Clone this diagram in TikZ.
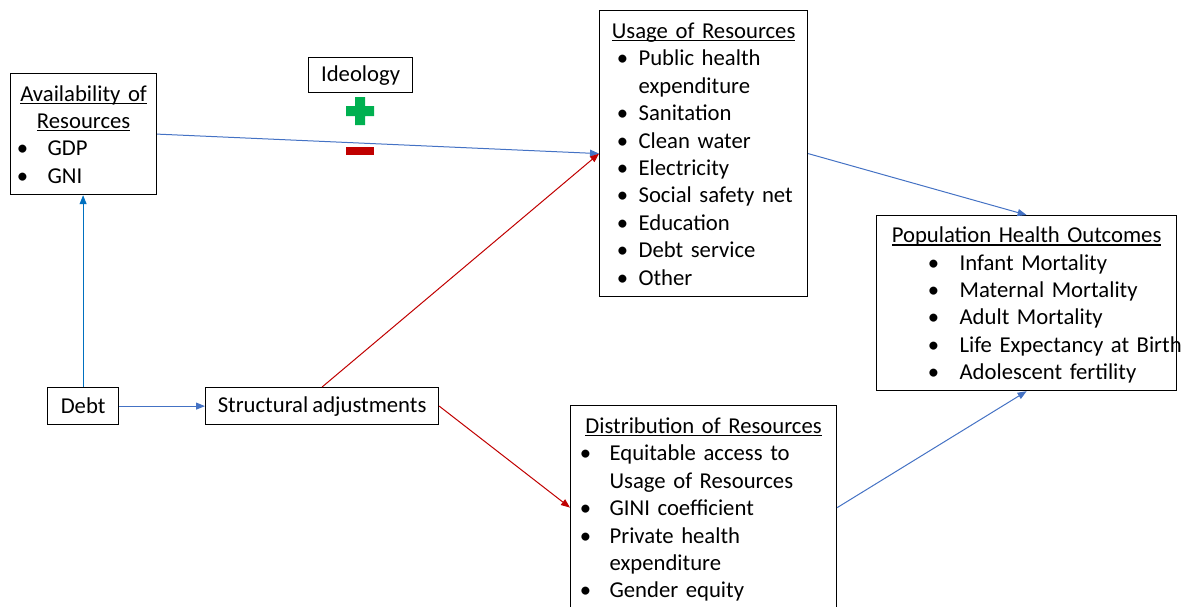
\documentclass[tikz,border=0pt]{standalone}
\usepackage{fontspec}
\setmainfont[WordSpace=0.8]{Carlito}
\usetikzlibrary{arrows.meta}
\definecolor{linkblue}{RGB}{68,114,196}
\definecolor{debtblue}{RGB}{0,112,192}
\definecolor{cutred}{RGB}{192,0,0}
\definecolor{plusgreen}{RGB}{0,176,80}
% bullet lines inside the resource boxes
\newsavebox{\ulbox}
\newcommand{\lstrut}{\rule[-5.6pt]{0pt}{27.4pt}}
\newcommand{\ul}[1]{\sbox{\ulbox}{#1}\rlap{\rule[-2.8pt]{\wd\ulbox}{1.3pt}}\usebox{\ulbox}}
\newcommand{\itm}[1]{\leavevmode\rlap{\hspace*{\bulx}\makebox[0pt]{\textbullet}}\hspace*{\txtx}\mbox{#1}\lstrut}
\newcommand{\cnt}[1]{\leavevmode\hspace*{\txtx}\mbox{#1}\lstrut}
\newcommand{\hdr}[1]{\makebox[\linewidth]{\ul{#1}}\lstrut}

\tikzset{
  resbox/.style n args={4}{draw, line width=1.2pt, anchor=north west, inner sep=0pt,
    text width=#1, minimum height=#2, align=left,
    execute at begin node={\def\bulx{#3}\def\txtx{#4}}},
  onebox/.style 2 args={draw, line width=1.2pt, anchor=north west, inner sep=0pt,
    minimum width=#1, minimum height=#2},
}

\begin{document}
\begin{tikzpicture}[x=1pt,y=-1pt,>={Triangle[length=9pt,width=7pt]},line width=1pt,
    font=\fontsize{22.7}{27.4}\selectfont]
      \useasboundingbox (0,0) rectangle (1186,606);
      %%
      \node (avail) at (10,73) [resbox={146pt}{121pt}{12pt}{37pt}]
        {\hdr{Availability of}\\ \hdr{Resources}\\ \itm{GDP}\\ \itm{GNI}};
      \node (ideo) at (308,57) [onebox={104pt}{35pt}] {Ideology};
      \node (usage) at (599,10) [resbox={208pt}{286pt}{23pt}{39pt}]
        {\hdr{Usage of Resources}\\ \itm{Public health}\\ \cnt{expenditure}\\
         \itm{Sanitation}\\ \itm{Clean water}\\ \itm{Electricity}\\
         \itm{Social safety net}\\ \itm{Education}\\ \itm{Debt service}\\ \itm{Other}};
      \node (pop) at (876,215) [resbox={300pt}{175pt}{57pt}{83pt}]
        {\hdr{Population Health Outcomes}\\ \itm{Infant Mortality}\\ \itm{Maternal Mortality}\\
         \itm{Adult Mortality}\\ \itm{Life Expectancy at Birth}\\ \itm{Adolescent fertility}};
      \node (debt) at (47,387) [onebox={71pt}{37pt}] {Debt};
      \node (struct) at (205,387) [onebox={233pt}{37pt}] {Structural adjustments};
      \node (dist) at (570,405) [resbox={266pt}{204pt}{15pt}{39pt}]
        {\hdr{Distribution of Resources}\\ \itm{Equitable access to}\\ \cnt{Usage of Resources}\\
         \itm{GINI coefficient}\\ \itm{Private health}\\ \cnt{expenditure}\\ \itm{Gender equity}};
      %% plus and minus under the ideology box
      \fill [plusgreen] (346,106) rectangle (374,116) (355,97) rectangle (365,125);
      \fill [cutred] (346,147) rectangle (374,155);
      %%
      \draw [->,linkblue] (avail.east) -- (usage.west);
      \draw [->,debtblue] (debt.north) -- (debt.north |- avail.south);
      \draw [->,linkblue] (debt) -- (struct);
      \draw [->,cutred] (struct.north) -- (usage.west);
      \draw [->,cutred] (struct.east) -- (dist.west);
      \draw [->,linkblue] (usage.east) -- (pop.north);
      \draw [->,linkblue] (dist.east) -- (pop.south);
    \end{tikzpicture}
\end{document}
